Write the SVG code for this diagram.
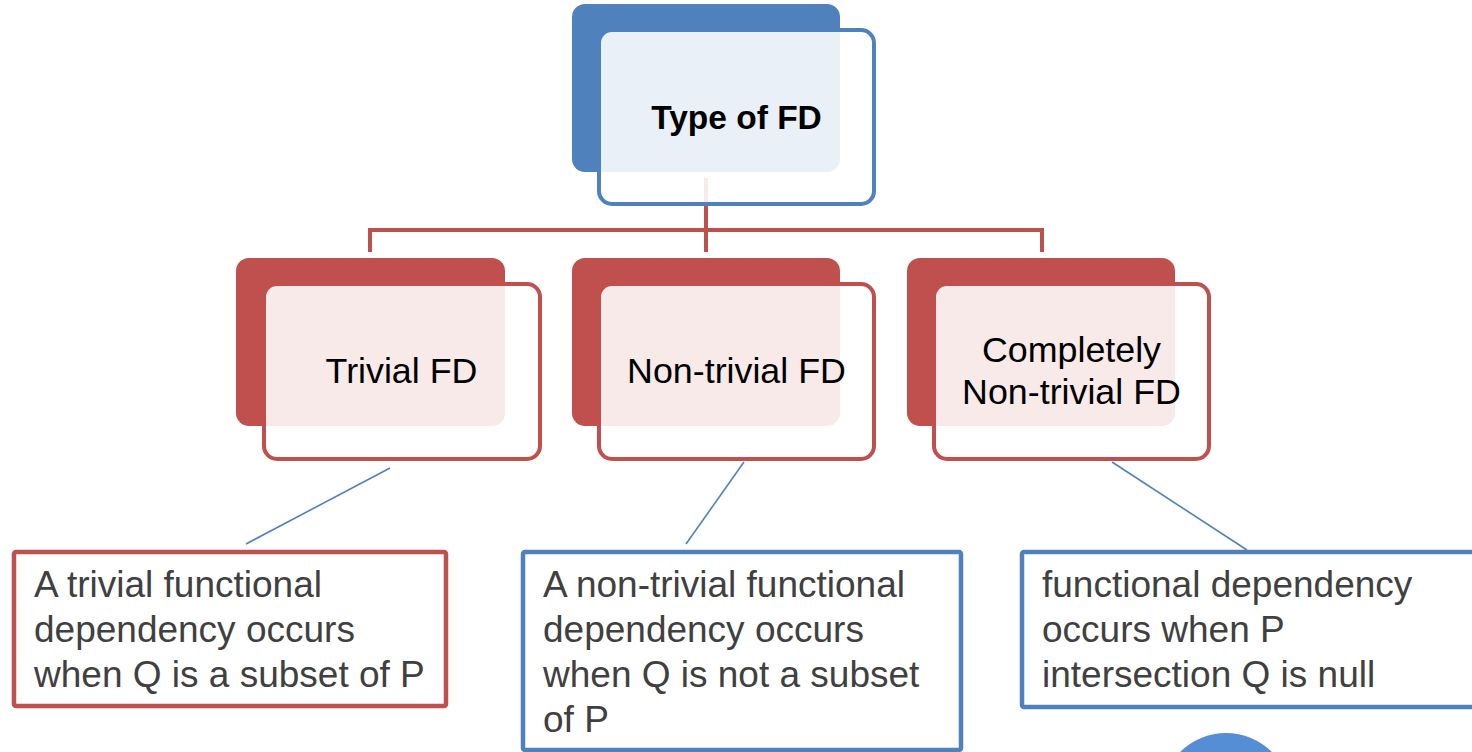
<svg xmlns="http://www.w3.org/2000/svg" width="1472" height="752" viewBox="0 0 1472 752">
  <style>
    .bg-blue { fill: #4F81BD; }
    .bg-red { fill: #C0504D; }
    .front { fill: #FFFFFF; fill-opacity: 0.88; stroke-width: 4; }
    .front-blue { stroke: #4F81BD; }
    .front-red { stroke: #C0504D; }
    .tree { fill: none; stroke: #C0504D; stroke-width: 4; }
    .link { fill: none; stroke: #4F81BD; stroke-width: 1.6; }
    .title { font-family: "Liberation Sans", Arial, sans-serif; font-size: 33.5px; font-weight: bold; fill: #000000; text-anchor: middle; }
    .label { font-family: "Liberation Sans", Arial, sans-serif; font-size: 35.8px; fill: #000000; text-anchor: middle; }
    .note { fill: #FFFFFF; stroke-width: 4.5; }
    .note-red { stroke: #C0504D; }
    .note-blue { stroke: #4F81BD; }
    .note-text { font-family: "Liberation Sans", Arial, sans-serif; font-size: 37px; fill: #404040; }
  </style>

  <g id="connectors">
    <path class="tree" d="M706 178 V252"/>
    <path class="tree" d="M370 252 V230 H1042 V252"/>
    <line class="link" x1="390" y1="468" x2="246" y2="544"/>
    <line class="link" x1="744" y1="462" x2="686" y2="544"/>
    <line class="link" x1="1112" y1="462" x2="1247" y2="550"/>
  </g>

  <g id="node-type-of-fd">
    <rect class="bg-blue" x="572" y="4" width="268" height="168" rx="13"/>
    <rect class="front front-blue" x="599" y="30" width="275" height="174" rx="13"/>
    <text class="title" x="736.5" y="129">Type of FD</text>
  </g>

  <g id="node-trivial">
    <rect class="bg-red" x="236" y="258" width="269" height="168" rx="13"/>
    <rect class="front front-red" x="264" y="284" width="276" height="175" rx="13"/>
    <text class="label" x="401.5" y="383">Trivial FD</text>
  </g>

  <g id="node-nontrivial">
    <rect class="bg-red" x="572" y="258" width="268" height="168" rx="13"/>
    <rect class="front front-red" x="599" y="284" width="275" height="175" rx="13"/>
    <text class="label" x="736.5" y="383">Non-trivial FD</text>
  </g>

  <g id="node-completely">
    <rect class="bg-red" x="907" y="258" width="268" height="168" rx="13"/>
    <rect class="front front-red" x="934" y="284" width="275" height="175" rx="13"/>
    <text class="label" x="1071.5" y="362">Completely</text>
    <text class="label" x="1071.5" y="404">Non-trivial FD</text>
  </g>

  <g id="note-trivial">
    <rect class="note note-red" x="14" y="552" width="432" height="154" rx="2"/>
    <text class="note-text" x="34" y="597">A trivial functional</text>
    <text class="note-text" x="34" y="642">dependency occurs</text>
    <text class="note-text" x="34" y="687">when Q is a subset of P</text>
  </g>

  <g id="note-nontrivial">
    <rect class="note note-blue" x="523" y="552" width="438" height="198" rx="2"/>
    <text class="note-text" x="543" y="597">A non-trivial functional</text>
    <text class="note-text" x="543" y="642">dependency occurs</text>
    <text class="note-text" x="543" y="687">when Q is not a subset</text>
    <text class="note-text" x="543" y="732">of P</text>
  </g>

  <g id="note-completely">
    <rect class="note note-blue" x="1022" y="552" width="470" height="155" rx="2"/>
    <text class="note-text" x="1042" y="597">functional dependency</text>
    <text class="note-text" x="1042" y="642">occurs when P</text>
    <text class="note-text" x="1042" y="687">intersection Q is null</text>
  </g>

  <circle id="circle" cx="1226" cy="798" r="65" fill="#558ED5"/>
</svg>
